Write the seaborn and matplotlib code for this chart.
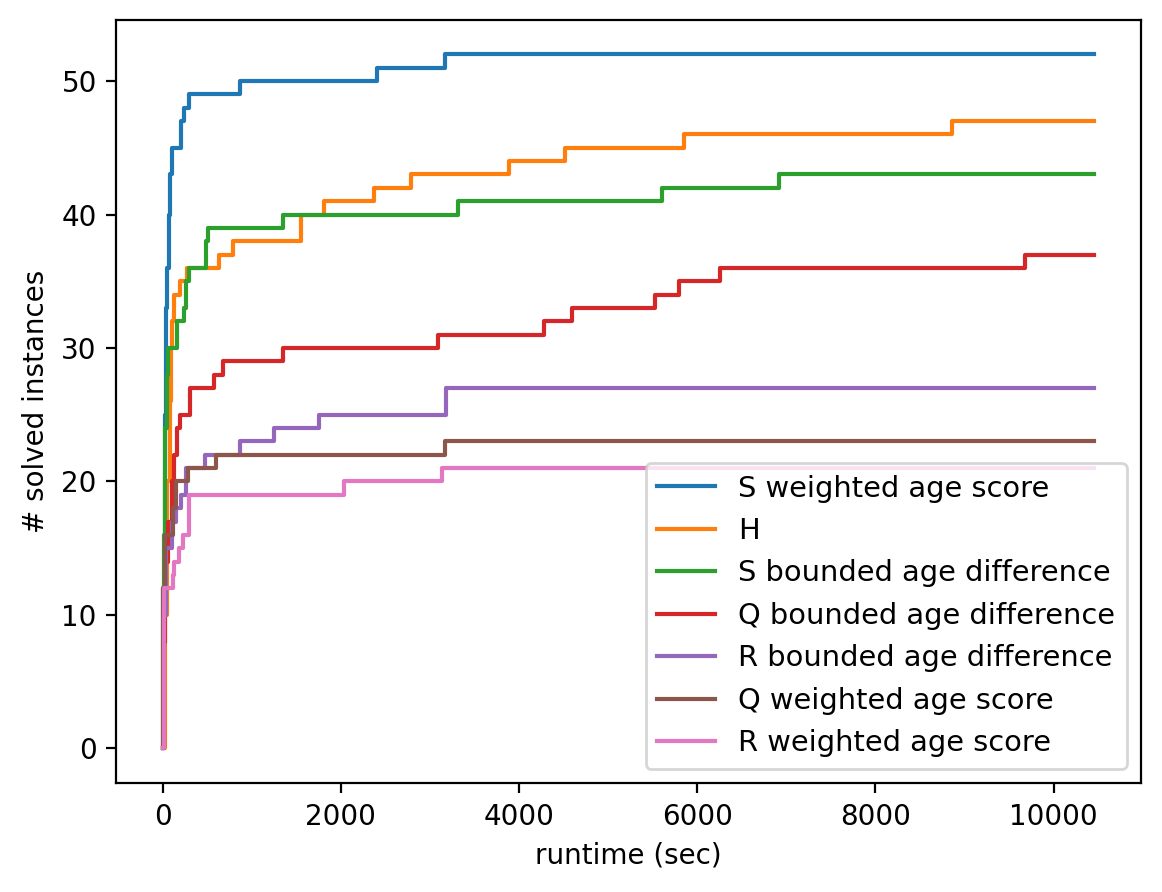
import numpy as np
import pandas as pd
import matplotlib
matplotlib.use("Agg")
import matplotlib.pyplot as plt
import seaborn as sns

T_END = 10460

labels = [
    "S weighted age score",
    "H",
    "S bounded age difference",
    "Q bounded age difference",
    "R bounded age difference",
    "Q weighted age score",
    "R weighted age score",
]

# (runtime, solved) step points
s_weighted_t = [0, 8, 20, 35, 50, 65, 85, 105, 200, 210, 240, 290, 865, 2400, 3170, T_END]
s_weighted_n = [0, 12, 25, 33, 36, 40, 43, 45, 46, 47, 48, 49, 50, 51, 52, 52]

h_t = [0, 20, 50, 80, 90, 95, 105, 125, 190, 275, 630, 790, 1550, 1810, 2370, 2790, 3890, 4510, 5850, 8860, T_END]
h_n = [0, 10, 20, 26, 28, 30, 32, 34, 35, 36, 37, 38, 40, 41, 42, 43, 44, 45, 46, 47, 47]

s_bounded_t = [0, 10, 25, 45, 55, 165, 235, 265, 290, 490, 505, 1345, 3310, 5600, 6920, T_END]
s_bounded_n = [0, 16, 24, 28, 30, 32, 33, 35, 36, 38, 39, 40, 41, 42, 43, 43]

q_bounded_t = [0, 10, 25, 60, 100, 130, 160, 190, 300, 575, 675, 1350, 3090, 4285, 4590, 5530, 5790, 6260, 9680, T_END]
q_bounded_n = [0, 8, 14, 17, 20, 22, 24, 25, 27, 28, 29, 30, 31, 32, 33, 34, 35, 36, 37, 37]

r_bounded_t = [0, 10, 40, 100, 150, 200, 260, 470, 870, 1250, 1755, 3180, T_END]
r_bounded_n = [0, 10, 15, 17, 18, 19, 21, 22, 23, 24, 25, 27, 27]

q_weighted_t = [0, 5, 30, 120, 150, 280, 595, 3170, T_END]
q_weighted_n = [0, 12, 16, 18, 20, 21, 22, 23, 23]

r_weighted_t = [0, 10, 110, 125, 180, 225, 290, 2035, 3140, T_END]
r_weighted_n = [0, 12, 13, 14, 15, 16, 19, 20, 21, 21]

series_t = [s_weighted_t, h_t, s_bounded_t, q_bounded_t, r_bounded_t, q_weighted_t, r_weighted_t]
series_n = [s_weighted_n, h_n, s_bounded_n, q_bounded_n, r_bounded_n, q_weighted_n, r_weighted_n]

frames = []
for lab, t, n in zip(labels, series_t, series_n):
    frames.append(pd.DataFrame({"runtime": t, "solved": n, "method": lab}))
df = pd.concat(frames, ignore_index=True)

fig = plt.figure(figsize=(5.81, 4.46), dpi=200)
ax = fig.add_axes([0.1, 0.122, 0.882, 0.856])

sns.lineplot(data=df, x="runtime", y="solved", hue="method", hue_order=labels,
             palette="tab10", estimator=None, sort=False, drawstyle="steps-post",
             linewidth=1.5, ax=ax)

ax.set_xlabel("runtime (sec)")
ax.set_ylabel("# solved instances")
ax.set_xticks([0, 2000, 4000, 6000, 8000, 10000])
ax.set_yticks([0, 10, 20, 30, 40, 50])
ax.legend(loc="lower right", fontsize=10.4)

fig.savefig("out.png", dpi=200)
